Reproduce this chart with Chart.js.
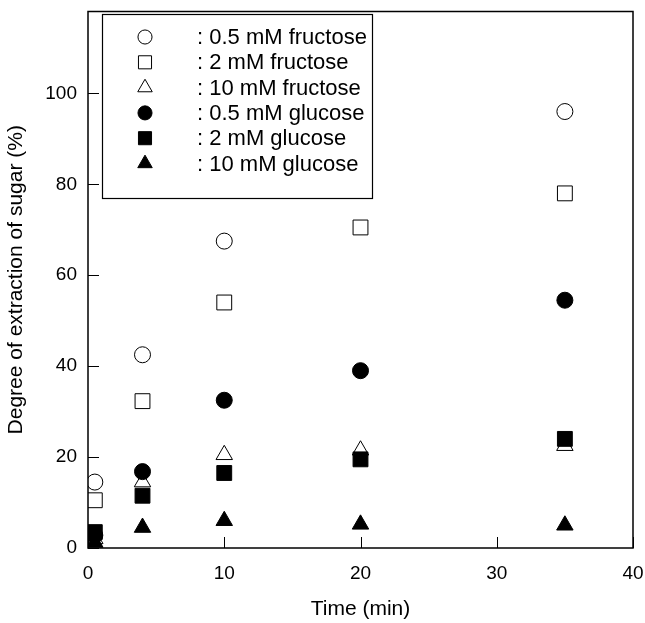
<!DOCTYPE html>
<html>
<head>
<meta charset="utf-8">
<script src="https://cdn.jsdelivr.net/npm/chart.js@4/dist/chart.umd.min.js"></script>
<style>
  html, body { margin: 0; padding: 0; background: #fff; }
  #caja { width: 645px; height: 623px; }
</style>
</head>
<body>
<div id="caja"><canvas id="grafico" width="645" height="623"></canvas></div>
<script>
// ---------------- DATOS ----------------
const tiempos = [0.5, 4, 10, 20, 35];

const fructosa05 = [14.5, 42.5, 67.5, null, 96];
const fructosa2  = [10.5, 32.3, 54, 70.5, 78];
const fructosa10 = [2, 14.5, 20.5, 21.5, 22.5];
const glucosa05  = [2.8, 16.8, 32.5, 39, 54.5];
const glucosa2   = [3.5, 11.5, 16.5, 19.5, 24];
const glucosa10  = [1.2, 4.5, 6, 5.2, 5];

const etiquetas = [
  ": 0.5 mM fructose",
  ": 2 mM fructose",
  ": 10 mM fructose",
  ": 0.5 mM glucose",
  ": 2 mM glucose",
  ": 10 mM glucose"
];

const ticksX = [0, 10, 20, 30, 40];
const ticksY = [0, 20, 40, 60, 80, 100];

const fuente = "'Liberation Sans', Arial, Helvetica, sans-serif";

function serie(label, valores, estilo, relleno, radio, orden) {
  return {
    label: label,
    data: tiempos.map((t, i) => ({ x: t, y: valores[i] })),
    pointStyle: estilo,
    pointRadius: radio,
    pointHoverRadius: radio,
    pointBackgroundColor: relleno ? "#000" : "#fff",
    pointBorderColor: "#000",
    pointBorderWidth: 1,
    showLine: false,
    order: orden
  };
}

const datasets = [
  serie(etiquetas[0], fructosa05, "circle", false, 8, 2),
  serie(etiquetas[1], fructosa2, "rect", false, 10.5, 2),
  serie(etiquetas[2], fructosa10, "triangle", false, 9.5, 2),
  serie(etiquetas[3], glucosa05, "circle", true, 8, 1),
  serie(etiquetas[4], glucosa2, "rect", true, 10.5, 1),
  serie(etiquetas[5], glucosa10, "triangle", true, 9.5, 1)
];

// ---------------- MARCO Y LEYENDA ----------------
const marco = {
  id: "marco",
  afterDatasetsDraw(chart) {
    const { ctx, chartArea: a, scales } = chart;
    ctx.save();
    ctx.strokeStyle = "#000";
    ctx.lineWidth = 1.5;
    ctx.strokeRect(a.left, a.top, a.right - a.left, a.bottom - a.top);

    // marcas hacia dentro
    ctx.beginPath();
    ticksY.forEach(v => {
      const y = Math.round(scales.y.getPixelForValue(v)) + 0.5;
      ctx.moveTo(a.left, y); ctx.lineTo(a.left + 11, y);
    });
    ticksX.forEach(v => {
      const x = Math.round(scales.x.getPixelForValue(v)) + 0.5;
      ctx.moveTo(x, a.bottom); ctx.lineTo(x, a.bottom - 11);
    });
    ctx.lineWidth = 1;
    ctx.stroke();

    // leyenda
    const lx = 102, ly = 14, lw = 270, lh = 184;
    ctx.fillStyle = "#fff";
    ctx.fillRect(lx, ly, lw, lh);
    ctx.strokeStyle = "#000";
    ctx.lineWidth = 1.2;
    ctx.strokeRect(lx + 0.5, ly + 0.5, lw, lh);

    ctx.font = "22px " + fuente;
    ctx.textBaseline = "middle";
    ctx.textAlign = "left";
    datasets.forEach((d, i) => {
      const y = 37 + i * 25.3;
      ctx.fillStyle = d.pointBackgroundColor;
      ctx.strokeStyle = "#000";
      ctx.lineWidth = 1;
      Chart.helpers.drawPoint(ctx, {
        pointStyle: d.pointStyle,
        radius: d.pointRadius * 0.88,
        borderWidth: 1
      }, 145, y);
      ctx.fillStyle = "#000";
      ctx.fillText(d.label, 197, y + 1);
    });
    ctx.restore();
  }
};

// ---------------- GRÁFICO ----------------
new Chart(document.getElementById("grafico"), {
  type: "scatter",
  data: { datasets: datasets },
  options: {
    responsive: false,
    animation: false,
    layout: { padding: { top: 0, right: 12, left: 0, bottom: 0 } },
    plugins: { legend: { display: false }, tooltip: { enabled: false } },
    scales: {
      x: {
        type: "linear",
        min: 0,
        max: 40,
        grid: { display: false },
        border: { display: false },
        afterBuildTicks: s => { s.ticks = ticksX.map(v => ({ value: v })); },
        afterFit: s => { s.height = 75; s.paddingLeft = 0; s.paddingRight = 0; },
        ticks: { color: "#000", padding: 6, font: { family: fuente, size: 19 } },
        title: {
          display: true,
          text: "Time (min)",
          color: "#000",
          padding: { top: 0, bottom: 1 },
          font: { family: fuente, size: 21 }
        }
      },
      y: {
        type: "linear",
        min: 0,
        max: 118,
        grid: { display: false },
        border: { display: false },
        afterBuildTicks: s => { s.ticks = ticksY.map(v => ({ value: v })); },
        afterFit: s => { s.width = 88; s.paddingTop = 0; s.paddingBottom = 0; },
        ticks: { color: "#000", padding: 3, font: { family: fuente, size: 19 } },
        title: {
          display: true,
          text: "Degree of extraction of sugar (%)",
          color: "#000",
          padding: { top: 4, bottom: 0 },
          font: { family: fuente, size: 21 }
        }
      }
    }
  },
  plugins: [marco]
});
</script>
</body>
</html>
